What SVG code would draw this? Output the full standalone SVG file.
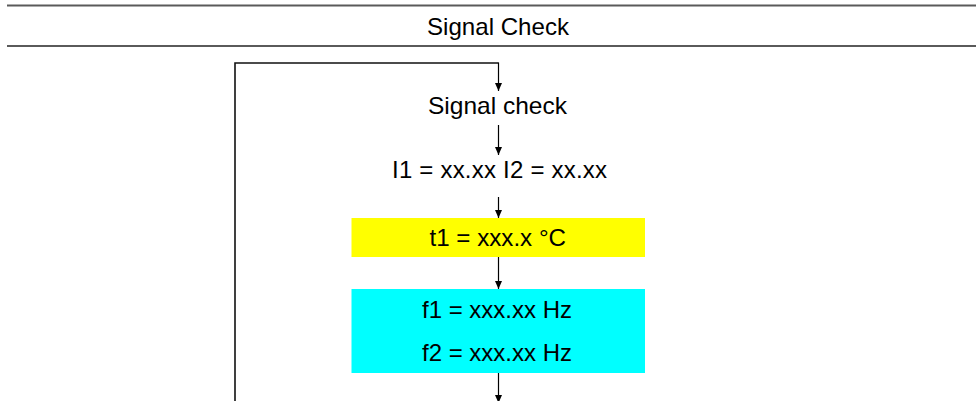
<svg xmlns="http://www.w3.org/2000/svg" width="976" height="401" viewBox="0 0 976 401">
<defs>
<style>
.t{font-family:"Liberation Sans",Arial,sans-serif;font-size:24px;fill:#000}
.rule{stroke:#5a5a5a;stroke-width:2;fill:none}
.c{stroke:#000;stroke-width:1.2;fill:none}
.loop{stroke:#111;stroke-width:1.6;fill:none}
</style>
<marker id="ah" viewBox="0 0 8 7" refX="8" refY="3.5" markerWidth="8" markerHeight="7" markerUnits="userSpaceOnUse" orient="auto">
<path d="M0,0 L8,3.5 L0,7 z" fill="#000"/>
</marker>
</defs>
<rect width="976" height="401" fill="#fff"/>
<g id="header">
<line class="rule" x1="7" y1="5.5" x2="976" y2="5.5"/>
<line class="rule" x1="7" y1="46" x2="976" y2="46"/>
<text class="t" x="427" y="35" textLength="142" lengthAdjust="spacingAndGlyphs">Signal Check</text>
</g>
<g id="connectors">
<path class="loop" d="M235,401 V63 H498.5"/>
<path class="c" d="M498.5,62.5 V91" marker-end="url(#ah)"/>
<path class="c" d="M498.5,125 V155" marker-end="url(#ah)"/>
<path class="c" d="M498.5,197 V218" marker-end="url(#ah)"/>
<path class="c" d="M498.5,257 V289" marker-end="url(#ah)"/>
<path class="c" d="M498.5,373 V403" marker-end="url(#ah)"/>
</g>
<g id="signal-check">
<text class="t" x="428" y="114" textLength="139" lengthAdjust="spacingAndGlyphs">Signal check</text>
</g>
<g id="currents">
<text class="t" x="392" y="178" textLength="215" lengthAdjust="spacing">I1 = xx.xx I2 = xx.xx</text>
</g>
<g id="temperature">
<rect x="351.5" y="218" width="293.5" height="39" fill="#ffff00"/>
<text class="t" x="429.5" y="246" textLength="136.5" lengthAdjust="spacingAndGlyphs">t1 = xxx.x °C</text>
</g>
<g id="frequencies">
<rect x="351.5" y="289" width="293.5" height="84" fill="#00ffff"/>
<text class="t" x="422" y="318" textLength="150" lengthAdjust="spacingAndGlyphs">f1 = xxx.xx Hz</text>
<text class="t" x="422" y="361" textLength="150" lengthAdjust="spacingAndGlyphs">f2 = xxx.xx Hz</text>
</g>
</svg>
